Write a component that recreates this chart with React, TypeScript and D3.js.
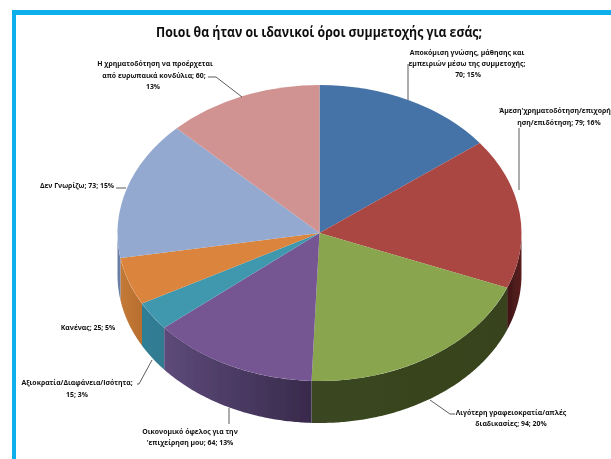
import React from "react";
import * as d3 from "d3";

const categories = [
  "Αποκόμιση γνώσης",
  "Άμεση χρηματοδότηση",
  "Λιγότερη γραφειοκρατία",
  "Οικονομικό όφελος",
  "Αξιοκρατία",
  "Κανένας",
  "Δεν Γνωρίζω",
  "Ευρωπαϊκά κονδύλια",
];
const values = [70, 79, 94, 64, 15, 25, 73, 60];
const topColors = ["#4572a7", "#aa4643", "#89a54e", "#755592", "#4198af", "#db843d", "#93a9cf", "#d19392"];
const sideStart = ["#2c4a70", "#3f1616", "#3a4720", "#5d4a7a", "#2e7f96", "#c47a38", "#6a7ea6", "#a06a6a"];
const sideEnd = ["#2c4a70", "#5a1f1f", "#37431e", "#382a4b", "#347a90", "#b86e2e", "#6a7ea6", "#a06a6a"];
const labelLines: [string, number, number][][] = [
  [["Αποκόμιση γνώσης, μάθησης και", 467, 55], ["εμπειριών μέσω της συμμετοχής;", 467, 66], ["70; 15%", 468, 77]],
  [["Άμεση'χρηματοδότηση/επιχορή", 555, 113], ["ηση/επιδότηση; 79; 16%", 559, 125]],
  [["Λιγότερη γραφειοκρατία/απλές", 511, 415], ["διαδικασίες; 94; 20%", 511, 426]],
  [["Οικονομικό όφελος για την", 190, 434], ["'επιχείρηση μου; 64; 13%", 190, 445]],
  [["Αξιοκρατία/Διαφάνεια/Ισότητα;", 77, 385], ["15; 3%", 77, 397]],
  [["Κανένας; 25; 5%", 88, 330]],
  [["Δεν Γνωρίζω; 73; 15%", 77, 188]],
  [["Η χρηματοδότηση να προέρχεται", 155, 66], ["από ευρωπαικά κονδύλια; 60;", 154, 78], ["13%", 153, 89]],
];
const leaders: [number, number][][] = [
  [[408, 100], [408, 64]],
  [[519, 190], [519, 128]],
  [[430, 400], [450, 414], [455, 414]],
  [[229, 408], [229, 424]],
  [[152, 360], [139, 384], [137, 384]],
  [],
  [[116, 188], [126, 188]],
  [[242, 97], [216, 77], [208, 77]],
];

const cx = 319.5, cy = 233, rx = 202, ry = 148, depth = 42;
const pie = d3.pie<number>().sort(null)(values);
const arc = d3.arc<d3.PieArcDatum<number>>().innerRadius(0).outerRadius(rx);

function sideRange(a0: number, a1: number): [number, number] | null {
  const from = Math.max(a0, Math.PI / 2), to = Math.min(a1, (3 * Math.PI) / 2);
  return to > from ? [from, to] : null;
}
const pt = (a: number, dy: number): [number, number] => [cx + rx * Math.sin(a), cy - ry * Math.cos(a) + dy];
function sidePath(from: number, to: number) {
  const angles = d3.range(from, to, 0.01).concat(to);
  const pts = [...angles.map(a => pt(a, 0)), ...angles.slice().reverse().map(a => pt(a, depth))];
  return d3.line()(pts) + "Z";
}
const font = "'Open Sans', 'Noto Sans', sans-serif";

export default function App() {
  return (
    <svg width={611} height={459} style={{ position: "fixed", left: 0, top: 0, background: "#fff" }}>
      <defs>
        <filter id="soft" x="-5%" y="-5%" width="110%" height="110%">
          <feGaussianBlur stdDeviation="0.4" />
        </filter>
        {pie.map((p, i) => {
          const r = sideRange(p.startAngle, p.endAngle);
          if (!r) return null;
          const xa = pt(r[1], 0)[0], xb = pt(r[0], 0)[0];
          return (
            <linearGradient key={i} id={`side${i}`} gradientUnits="userSpaceOnUse" x1={xa} x2={xb} y1={0} y2={0}>
              <stop offset="0" stopColor={sideStart[i]} />
              <stop offset="1" stopColor={sideEnd[i]} />
            </linearGradient>
          );
        })}
      </defs>
      <g filter="url(#soft)">
        <path d="M611 10H12V459H16V15H611Z" fill="#0cb0ea" />
        <text x={156} y={37} textLength={326} lengthAdjust="spacingAndGlyphs" fontFamily={font} fontSize={15} fontWeight={700} fill="#111">
          Ποιοι θα ήταν οι ιδανικοί όροι συμμετοχής για εσάς;
        </text>
        {pie.map((p, i) => {
          const r = sideRange(p.startAngle, p.endAngle);
          return r ? <path key={i} d={sidePath(r[0], r[1])} fill={`url(#side${i})`} /> : null;
        })}
        <g transform={`translate(${cx},${cy}) scale(1,${ry / rx})`}>
          {pie.map((p, i) => (
            <path key={i} d={arc(p) ?? ""} fill={topColors[i]} />
          ))}
        </g>
        {leaders.map((l, i) =>
          l.length ? <path key={i} d={d3.line()(l) ?? ""} fill="none" stroke="#333" strokeWidth={0.8} /> : null
        )}
        {labelLines.map((lines, i) =>
          lines.map(([t, x, y], j) => (
            <text key={`${i}-${j}`} x={x} y={y} textAnchor="middle" fontFamily={font} fontSize={6.9} fontWeight={700} fill="#111">
              {t}
            </text>
          ))
        )}
      </g>
    </svg>
  );
}
